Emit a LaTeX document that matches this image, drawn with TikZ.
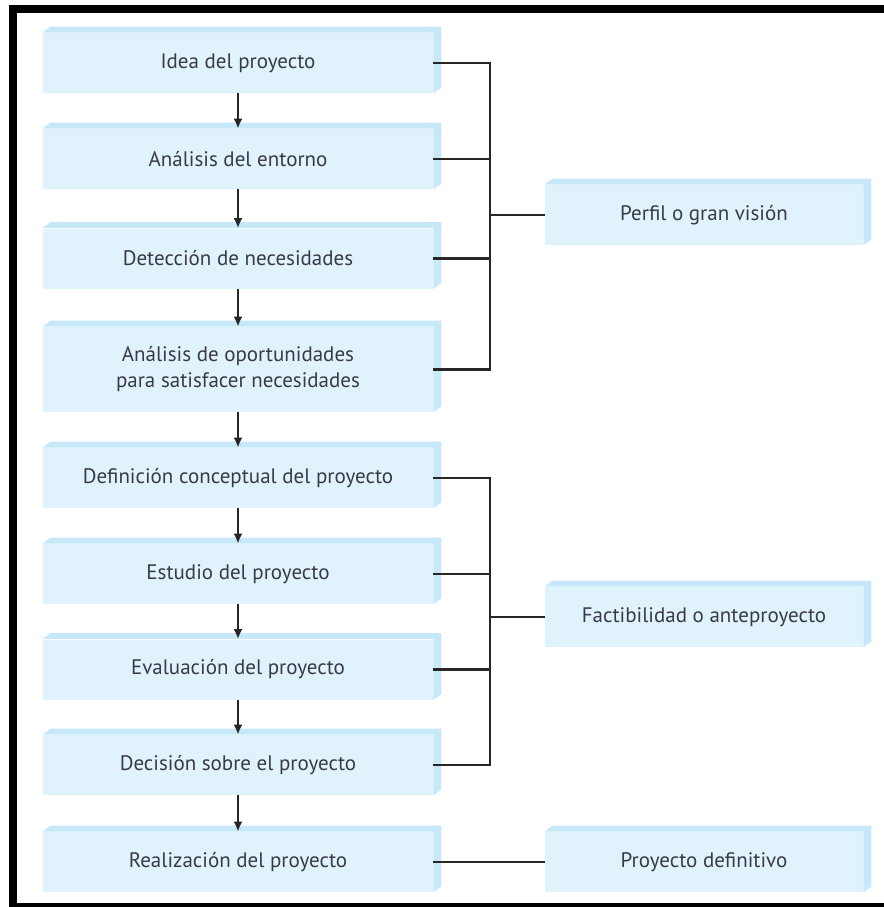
\documentclass[tikz,border=0pt]{standalone}
\usepackage{fontspec}
\setmainfont{PT Sans}
\usetikzlibrary{arrows.meta,calc,positioning}

\definecolor{faceblue}{HTML}{E0F3FD}
\definecolor{sideblue}{HTML}{C6E8F9}
\definecolor{inkgray}{HTML}{3A3A46}

% top and right strip of a box
\newcommand{\boxside}[1]{%
  \fill[sideblue] (#1.north west) -- ++(4pt,3pt) -- ([shift={(4pt,3pt)}]#1.north east)
    -- ([shift={(4pt,3pt)}]#1.south east) -- (#1.south east) -- (#1.north east) -- cycle;}

\begin{document}
\begin{tikzpicture}[x=0.5pt, y=-0.5pt,
  stage/.style={fill=faceblue, inner sep=0pt, minimum width=195pt, minimum height=30pt,
    text=inkgray, font=\fontsize{10.5}{13}\selectfont, align=center},
  phase/.style={stage, minimum width=159pt},
  flow/.style={-{Latex[length=5pt,width=4.5pt]}, line width=1.2pt, black!85},
  link/.style={line width=1.35pt, black!85}]
  \useasboundingbox (0,0) rectangle (884,907);

  % frame
  \draw[line width=4pt] (13,9) rectangle (892,907);

  % process column
  \node[stage] (idea) at (238,63) {Idea del proyecto};
  \node[stage] (entorno) at (238,159) {Análisis del entorno};
  \node[stage] (deteccion) at (238,258.5) {Detección de necesidades};
  \node[stage, minimum height=42.5pt] (oportun) at (238,369.5) {Análisis de oportunidades\\para satisfacer necesidades};
  \node[stage] (definicion) at (238,478) {Definición conceptual del proyecto};
  \node[stage] (estudio) at (238,574) {Estudio del proyecto};
  \node[stage] (evaluacion) at (238,669.5) {Evaluación del proyecto};
  \node[stage] (decision) at (238,765) {Decisión sobre el proyecto};
  \node[stage] (realizacion) at (238,862) {Realización del proyecto};

  % phases
  \node[phase] (perfil) at (704,215) {Perfil o gran visión};
  \node[phase] (factib) at (704,617) {Factibilidad o anteproyecto};
  \node[phase] (definitivo) at (704,862) {Proyecto definitivo};

  \foreach \n in {idea,entorno,deteccion,oportun,definicion,estudio,evaluacion,decision,realizacion,perfil,factib,definitivo}
    \boxside{\n};

  \foreach \a/\b in {idea/entorno,entorno/deteccion,deteccion/oportun,oportun/definicion,
      definicion/estudio,estudio/evaluacion,evaluacion/decision,decision/realizacion}
    \draw[flow] (\a.south) -- (\b.north);

  % brackets
  \coordinate (bar) at (490,0);
  \draw[link] (idea.east) -- (idea.east -| bar) -- (oportun.east -| bar) -- (oportun.east);
  \draw[link] (entorno.east) -- (entorno.east -| bar);
  \draw[link] (deteccion.east) -- (deteccion.east -| bar);
  \draw[link] (perfil.west -| bar) -- (perfil.west);

  \draw[link] (definicion.east) -- (definicion.east -| bar) -- (decision.east -| bar) -- (decision.east);
  \draw[link] (estudio.east) -- (estudio.east -| bar);
  \draw[link] (evaluacion.east) -- (evaluacion.east -| bar);
  \draw[link] (factib.west -| bar) -- (factib.west);

  \draw[link] (realizacion.east) -- (definitivo.west);
\end{tikzpicture}
\end{document}
